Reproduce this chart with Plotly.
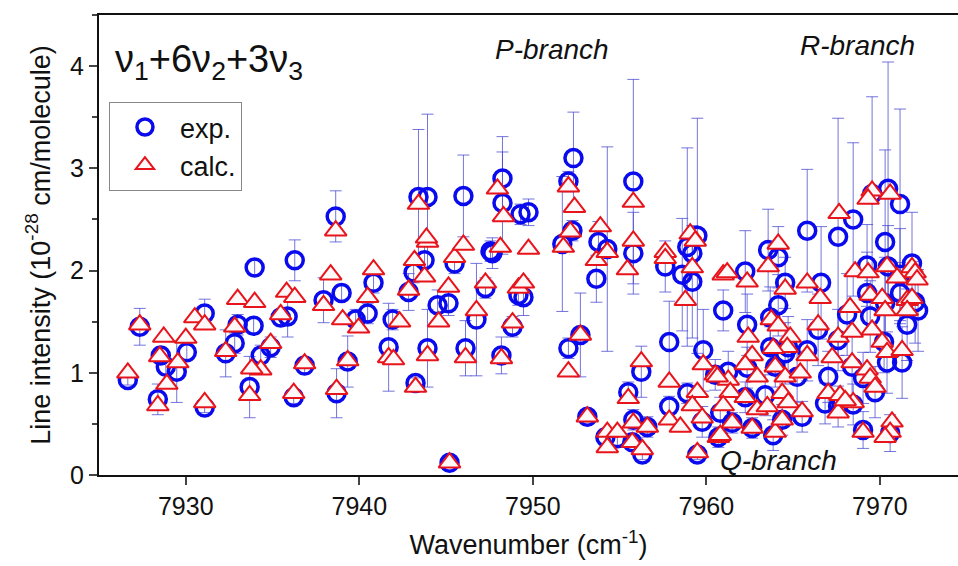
import plotly.graph_objects as go

# ---- experimental line intensities (x: wavenumber, y: intensity, err: uncertainty)
exp_x = [7926.66, 7927.35, 7928.39, 7928.56, 7928.85, 7929.48, 7930.06, 7931.09, 7931.09, 7932.30,
         7932.82, 7932.99, 7933.97, 7933.91, 7934.32, 7933.68, 7934.89, 7935.47, 7935.87, 7936.28,
         7936.22, 7936.85, 7937.94, 7938.98, 7938.64, 7940.82, 7940.48, 7939.79, 7939.33, 7938.69,
         7941.92, 7941.69, 7942.84, 7943.13, 7943.76, 7943.24, 7943.93, 7944.51, 7945.14, 7945.49,
         7946.12, 7946.75, 7947.27, 7947.67, 7948.19, 7948.83, 7949.17, 7945.20, 7943.41, 7943.93,
         7946.00, 7948.25, 7948.25, 7947.56, 7949.29, 7949.75, 7952.34, 7952.05, 7952.28, 7951.70,
         7953.78, 7954.29, 7955.79, 7959.48, 7958.90, 7949.46, 7952.05, 7952.74, 7953.66, 7953.14,
         7954.18, 7954.87, 7955.79, 7955.50, 7956.25, 7955.79, 7956.60, 7955.73, 7956.31, 7957.63,
         7957.86, 7957.86, 7958.61, 7959.19, 7959.19, 7959.82, 7960.51, 7958.90, 7959.76, 7959.48,
         7960.69, 7960.97,
         7965.81, 7967.59, 7968.46, 7969.55, 7970.47, 7971.16, 7970.30, 7963.56, 7964.14, 7962.24,
         7962.35, 7964.54, 7964.14, 7966.61, 7963.68, 7964.71, 7963.68, 7962.35, 7961.26, 7962.24,
         7960.80, 7961.49, 7962.64, 7963.39, 7963.97, 7964.54, 7963.85, 7964.37, 7965.52, 7965.23,
         7965.81, 7966.44, 7967.02, 7966.84, 7967.59, 7968.11, 7967.59, 7968.40, 7968.46, 7969.26,
         7969.26, 7969.44, 7969.03, 7969.72, 7969.03, 7970.30, 7970.47, 7970.24, 7970.41, 7971.28,
         7970.59, 7971.57, 7971.85, 7971.16, 7972.03, 7972.20, 7971.16]
exp_y = [0.93, 1.45, 0.74, 1.17, 1.06, 1.01, 1.20, 1.58, 0.66, 1.19,
         1.29, 1.47, 2.03, 1.46, 1.17, 0.86, 1.25, 1.54, 1.55, 2.10,
         0.76, 1.07, 1.71, 1.78, 2.53, 1.88, 1.58, 1.52, 1.11, 0.80,
         1.52, 1.25, 1.79, 1.98, 2.10, 0.90, 1.24, 1.66, 1.68, 2.07,
         1.24, 1.52, 1.83, 2.17, 1.17, 1.45, 1.76, 0.12, 2.72, 2.72,
         2.73, 2.90, 2.66, 2.19, 2.55, 2.57, 3.10, 2.87, 2.39, 2.26,
         2.28, 2.21, 2.87, 2.34, 2.23, 1.74, 1.24, 1.37, 1.92, 0.57,
         0.37, 0.36, 2.17, 0.81, 1.01, 0.54, 0.47, 0.32, 0.20, 2.04,
         1.30, 0.67, 1.96, 1.89, 2.17, 1.22, 0.98, 0.80, 0.52, 0.20,
         0.37, 1.61,
         2.39, 2.33, 2.50, 2.75, 2.80, 2.65, 2.28, 2.20, 2.13, 1.99,
         1.47, 1.88, 1.66, 1.88, 1.54, 1.25, 1.25, 1.05, 1.01, 0.76,
         0.61, 0.51, 0.46, 0.78, 1.06, 1.19, 0.39, 0.54, 0.57, 0.96,
         1.22, 1.42, 0.96, 0.70, 0.67, 1.57, 1.32, 1.06, 0.69, 2.05,
         1.78, 1.55, 0.95, 0.81, 0.44, 1.68, 2.04, 1.30, 1.10, 1.10,
         0.41, 1.47, 2.07, 1.96, 1.69, 1.61, 1.78]
exp_err = [0.05, 0.18, 0.15, 0.08, 0.08, 0.30, 0.08, 0.14, 0.05, 0.23,
           0.10, 0.10, 0.08, 0.08, 0.10, 0.30, 0.10, 0.08, 0.20, 0.20,
           0.06, 0.08, 0.22, 0.08, 0.25, 0.10, 0.10, 0.10, 0.25, 0.24,
           0.10, 0.43, 0.18, 0.10, 0.15, 0.05, 0.38, 0.15, 0.12, 0.10,
           0.27, 0.55, 0.10, 0.15, 0.18, 0.10, 0.10, 0.03, 0.66, 0.81,
           0.40, 0.41, 0.50, 0.10, 0.10, 0.13, 0.45, 0.10, 0.10, 0.66,
           0.20, 1.00, 1.00, 1.15, 0.97, 0.18, 0.10, 0.41, 0.23, 0.05,
           0.08, 0.08, 0.40, 0.10, 0.25, 0.10, 0.10, 0.05, 0.05, 0.25,
           0.40, 0.10, 0.55, 0.55, 0.20, 0.40, 0.15, 0.10, 0.15, 0.05,
           0.10, 0.20,
           0.60, 1.16, 0.75, 0.95, 1.24, 0.93, 0.90, 0.40, 0.30, 0.40,
           0.30, 0.25, 0.30, 0.55, 0.30, 0.30, 0.20, 0.20, 0.20, 0.15,
           0.15, 0.10, 0.10, 0.20, 0.20, 0.30, 0.15, 0.15, 0.15, 0.25,
           0.30, 0.35, 0.25, 0.20, 0.20, 0.40, 0.30, 0.30, 0.20, 0.40,
           0.40, 0.35, 0.25, 0.25, 0.18, 0.45, 0.40, 0.30, 0.30, 0.35,
           0.18, 0.35, 0.50, 0.45, 0.40, 0.40, 0.30]

# ---- calculated line intensities
calc_x = [7926.66, 7927.35, 7928.39, 7928.50, 7928.73, 7928.91, 7929.54, 7930.00, 7930.52, 7931.09,
          7931.09, 7932.30, 7932.99, 7932.82, 7933.97, 7934.32, 7933.80, 7933.68, 7934.89, 7935.47,
          7935.81, 7936.28, 7936.22, 7936.85, 7938.64, 7938.35, 7937.94, 7940.82, 7940.48, 7939.96,
          7939.04, 7939.33, 7938.69, 7942.32, 7941.69, 7941.97, 7942.84, 7943.18, 7943.76, 7943.93,
          7943.24, 7943.93, 7944.57, 7945.14, 7945.49, 7946.00, 7946.12, 7946.75, 7947.27, 7948.13,
          7948.19, 7948.83, 7949.17, 7945.20, 7943.41, 7943.87, 7947.96, 7948.31, 7949.75, 7949.46,
          7952.05, 7952.40, 7952.16, 7951.76, 7953.89, 7955.79, 7955.79, 7957.63, 7959.07, 7959.36,
          7952.05, 7952.74, 7953.66, 7954.29, 7953.14, 7954.29, 7954.87, 7954.29, 7955.45, 7955.50,
          7956.25, 7955.79, 7956.60, 7955.73, 7956.31, 7957.63, 7957.86, 7957.86, 7958.50, 7959.19,
          7958.79, 7959.82, 7960.51, 7959.48, 7959.19, 7959.76, 7959.48, 7960.69, 7960.97,
          7967.65, 7969.55, 7969.32, 7970.59, 7964.14, 7961.20, 7962.35, 7963.56, 7962.41, 7964.54,
          7965.81, 7966.56, 7963.74, 7964.14, 7964.83, 7964.66, 7963.85, 7962.64, 7962.24, 7962.93,
          7961.26, 7960.63, 7961.38, 7962.24, 7960.97, 7961.49, 7960.80, 7962.64, 7962.93, 7963.51,
          7963.97, 7964.54, 7964.37, 7964.72, 7963.97, 7964.37, 7965.52, 7965.41, 7965.81, 7966.44,
          7967.25, 7967.02, 7967.59, 7967.71, 7967.59, 7968.28, 7968.40, 7968.40, 7968.46, 7968.00,
          7968.57, 7969.32, 7969.44, 7969.55, 7969.26, 7969.44, 7969.72, 7969.03, 7970.13, 7970.30,
          7970.41, 7970.13, 7970.41, 7971.28, 7970.70, 7970.59, 7970.30, 7971.85, 7972.03, 7972.14,
          7970.99, 7971.57, 7971.85, 7971.57]
calc_y = [1.00, 1.47, 0.68, 1.16, 1.35, 0.89, 1.10, 1.34, 1.54, 1.47,
          0.71, 1.21, 1.72, 1.45, 1.69, 1.03, 1.04, 0.78, 1.29, 1.57,
          1.79, 1.74, 0.80, 1.09, 2.39, 1.96, 1.66, 2.01, 1.74, 1.44,
          1.52, 1.12, 0.84, 1.50, 1.15, 1.13, 1.81, 2.10, 1.94, 2.28,
          0.86, 1.17, 1.50, 1.84, 2.13, 2.25, 1.15, 1.61, 1.88, 2.23,
          1.14, 1.49, 1.83, 0.12, 2.65, 2.32, 2.80, 2.53, 2.21, 1.88,
          2.82, 2.62, 2.38, 2.23, 2.43, 2.67, 2.29, 2.18, 2.36, 2.29,
          1.01, 1.37, 2.10, 2.18, 0.57, 0.42, 0.42, 0.27, 2.01, 0.75,
          1.11, 0.51, 0.47, 0.32, 0.25, 2.12, 0.91, 0.54, 0.47, 2.03,
          1.71, 1.08, 0.98, 0.81, 0.68, 0.56, 0.22, 0.37, 1.96,
          2.56, 2.78, 2.70, 2.75, 2.26, 1.98, 1.89, 2.04, 1.35, 1.82,
          1.88, 1.73, 1.52, 1.46, 1.35, 1.25, 1.24, 1.17, 1.08, 0.96,
          0.93, 0.96, 0.81, 0.76, 0.68, 0.51, 0.39, 0.46, 0.64, 0.67,
          1.06, 0.96, 0.80, 0.71, 0.42, 0.54, 0.62, 1.00, 1.17, 1.47,
          1.15, 0.80, 0.61, 0.78, 1.35, 1.64, 1.40, 1.10, 0.71, 0.73,
          1.99, 1.98, 1.76, 1.42, 1.03, 0.95, 0.86, 0.42, 1.73, 1.61,
          2.04, 1.30, 1.20, 1.22, 0.52, 0.42, 0.37, 2.03, 1.98, 1.91,
          1.93, 1.71, 1.73, 1.61]

x_ticks = [7930, 7940, 7950, 7960, 7970]
y_ticks = [0, 1, 2, 3, 4]

FONT = "Liberation Sans, Arial, sans-serif"

fig = go.Figure()
fig.add_trace(go.Scatter(
    x=exp_x, y=exp_y, mode="markers", name="exp.",
    marker=dict(symbol="circle-open", size=17, color="#0a0aee", line=dict(width=3.5, color="#0a0aee")),
    error_y=dict(type="data", array=exp_err, visible=True, color="rgba(70,70,210,0.75)", thickness=1, width=6),
))
fig.add_trace(go.Scatter(
    x=calc_x, y=calc_y, mode="markers", name="calc.",
    marker=dict(symbol="triangle-up", size=19, color="rgba(255,248,248,1)", line=dict(width=2, color="#e8141c")),
))

fig.update_layout(
    width=958, height=566,
    margin=dict(l=99, r=0, t=15, b=91),
    paper_bgcolor="white", plot_bgcolor="white",
    font=dict(family=FONT, color="#111111", size=24),
    showlegend=True,
    legend=dict(x=0.0116, y=0.811, xanchor="left", yanchor="top",
                bordercolor="#888888", borderwidth=1, bgcolor="white",
                font=dict(size=27, family=FONT), itemsizing="trace", itemwidth=60, tracegroupgap=0),
    xaxis=dict(range=[7925, 7974.5], tickvals=x_ticks, ticks="outside", ticklen=8, tickwidth=1.5,
               showline=True, linewidth=2, linecolor="#111111", mirror=True, showgrid=False, zeroline=False,
               tickfont=dict(size=25), title=dict(text="Wavenumber (cm<sup>-1</sup>)", font=dict(size=27), standoff=16)),
    yaxis=dict(range=[0, 4.5], tickvals=y_ticks, ticks="outside", ticklen=8, tickwidth=1.5,
               minor=dict(dtick=0.5, ticks="outside", ticklen=5, tickwidth=1.5, showgrid=False),
               showline=True, linewidth=2, linecolor="#111111", mirror=False, showgrid=False, zeroline=False,
               tickfont=dict(size=25), title=dict(text="Line intensity (10<sup>-28</sup> cm/molecule)", font=dict(size=27), standoff=12)),
)

fig.add_annotation(x=7925.8, y=4.04, xref="x", yref="y", xanchor="left", yanchor="middle", showarrow=False,
                   text="ν<sub>1</sub>+6ν<sub>2</sub>+3ν<sub>3</sub>", font=dict(size=38, family=FONT))
fig.add_annotation(x=7951.13, y=4.16, xref="x", yref="y", showarrow=False,
                   text="<i>P-branch</i>", font=dict(size=28, family=FONT))
fig.add_annotation(x=7968.69, y=4.20, xref="x", yref="y", showarrow=False,
                   text="<i>R-branch</i>", font=dict(size=28, family=FONT))
fig.add_annotation(x=7964.14, y=0.14, xref="x", yref="y", showarrow=False,
                   text="<i>Q-branch</i>", font=dict(size=28, family=FONT))

fig.write_html("out.html")
